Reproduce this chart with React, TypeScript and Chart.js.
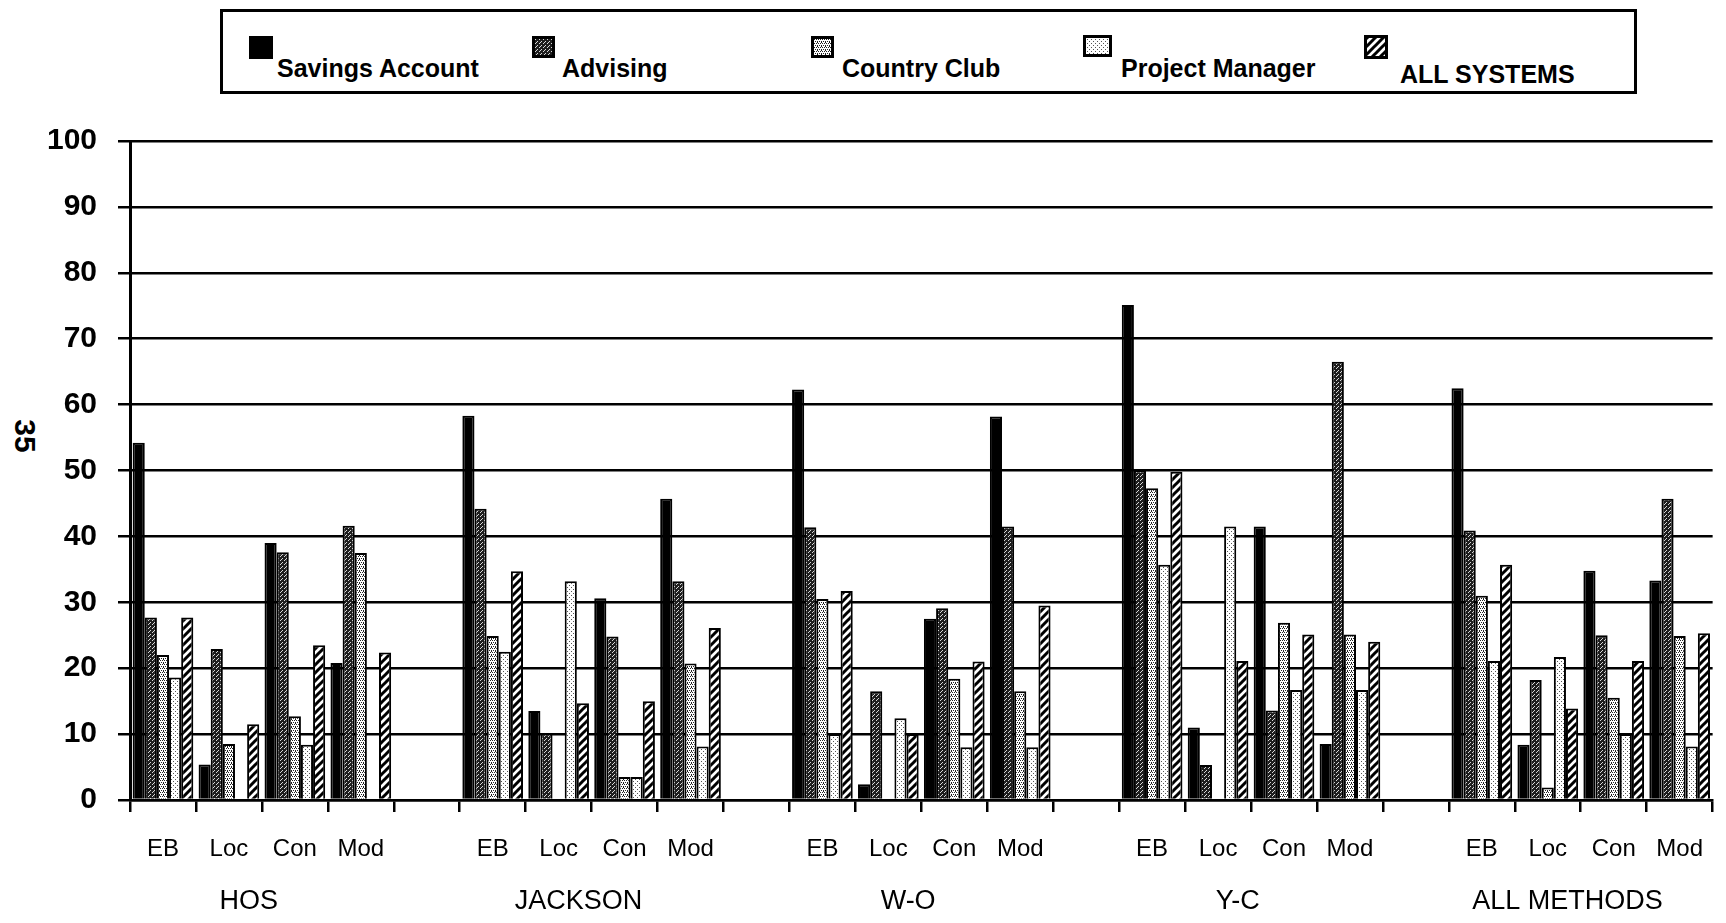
import React, { useEffect, useMemo, useRef } from "react";
import { Chart, registerables } from "chart.js";

Chart.register(...registerables);

// ---------- data ----------
const GROUPS = ["HOS", "JACKSON", "W-O", "Y-C", "ALL METHODS"];
const SUBCATS = ["EB", "Loc", "Con", "Mod"];
const SERIES_NAMES = ["Savings Account", "Advising", "Country Club", "Project Manager", "ALL SYSTEMS"];
const Y_MIN = 0;
const Y_MAX = 100;
const Y_STEP = 10;

// values in order: HOS(EB,Loc,Con,Mod), JACKSON(...), W-O(...), Y-C(...), ALL METHODS(...)
const SAVINGS_ACCOUNT = [54.2, 5.4, 39.0, 20.8, 58.3, 13.5, 30.6, 45.7, 62.3, 2.4, 27.5, 58.2, 75.1, 11.0, 41.5, 8.5, 62.5, 8.4, 34.8, 33.3];
const ADVISING = [27.7, 22.9, 37.6, 41.6, 44.2, 10.1, 24.8, 33.2, 41.4, 16.5, 29.1, 41.5, 50.0, 5.3, 13.6, 66.5, 40.9, 18.2, 25.0, 45.7];
const COUNTRY_CLUB = [22.0, 8.5, 12.7, 37.5, 24.9, null, 3.5, 20.7, 30.5, null, 18.4, 16.5, 47.3, null, 26.9, 25.1, 31.0, 1.9, 15.5, 24.9];
const PROJECT_MANAGER = [18.6, null, 8.4, null, 22.5, 33.2, 3.5, 8.1, 10.0, 12.4, 8.0, 8.0, 35.7, 41.5, 16.7, 16.7, 21.1, 21.7, 10.0, 8.1];
const ALL_SYSTEMS = [27.7, 11.5, 23.5, 22.4, 34.7, 14.7, 15.0, 26.1, 31.7, 10.0, 21.0, 29.5, 49.8, 21.1, 25.1, 24.0, 35.7, 13.9, 21.1, 25.3];

const SERIES_VALUES = [SAVINGS_ACCOUNT, ADVISING, COUNTRY_CLUB, PROJECT_MANAGER, ALL_SYSTEMS];

// ---------- helpers ----------
type Kind = "solid" | "adv" | "cc" | "pm" | "hatch";
const SERIES_KINDS: Kind[] = ["solid", "adv", "cc", "pm", "hatch"];

function makeTile(kind: Kind): HTMLCanvasElement {
  const c = document.createElement("canvas");
  if (kind === "hatch") {
    c.width = 8;
    c.height = 8;
    const g = c.getContext("2d")!;
    g.fillStyle = "#fff";
    g.fillRect(0, 0, 8, 8);
    g.strokeStyle = "#000";
    g.lineWidth = 3;
    g.beginPath();
    g.moveTo(-2, 10); g.lineTo(10, -2);
    g.moveTo(-6, 6); g.lineTo(6, -6);
    g.moveTo(2, 14); g.lineTo(14, 2);
    g.stroke();
    return c;
  }
  c.width = 4;
  c.height = 4;
  const g = c.getContext("2d")!;
  if (kind === "solid") {
    g.fillStyle = "#000";
    g.fillRect(0, 0, 4, 4);
  } else if (kind === "adv") {
    g.fillStyle = "#1e1e1e";
    g.fillRect(0, 0, 4, 4);
    g.fillStyle = "#d8d8d8";
    g.fillRect(0, 0, 1, 1);
    g.fillRect(2, 2, 1, 1);
    g.fillRect(1, 3, 1, 1);
  } else if (kind === "cc") {
    g.fillStyle = "#fff";
    g.fillRect(0, 0, 4, 4);
    g.fillStyle = "#222";
    g.fillRect(0, 0, 1, 1);
    g.fillRect(2, 0, 1, 1);
    g.fillRect(1, 2, 1, 1);
    g.fillRect(3, 2, 1, 1);
    g.fillRect(3, 3, 1, 1);
  } else {
    g.fillStyle = "#fff";
    g.fillRect(0, 0, 4, 4);
    g.fillStyle = "#555";
    g.fillRect(1, 1, 1, 1);
    g.fillRect(3, 3, 1, 1);
  }
  return c;
}

function buildLabels(): string[] {
  const out: string[] = [];
  GROUPS.forEach((_, gi) => {
    SUBCATS.forEach((s) => out.push(s));
    if (gi < GROUPS.length - 1) out.push("");
  });
  return out;
}

function buildSeries(values: (number | null)[]): (number | null)[] {
  const out: (number | null)[] = [];
  GROUPS.forEach((_, gi) => {
    SUBCATS.forEach((_, si) => out.push(values[gi * SUBCATS.length + si]));
    if (gi < GROUPS.length - 1) out.push(null);
  });
  return out;
}

const SLOTS_PER_GROUP = SUBCATS.length + 1;
const FONT = "'Liberation Sans', Arial, Helvetica, sans-serif";

export default function App() {
  const canvasRef = useRef<HTMLCanvasElement | null>(null);
  const tiles = useMemo(() => SERIES_KINDS.map((k) => makeTile(k)), []);
  const tileUrls = useMemo(() => tiles.map((t) => t.toDataURL()), [tiles]);

  useEffect(() => {
    const canvas = canvasRef.current;
    if (!canvas) return;
    const ctx = canvas.getContext("2d")!;
    const fills = SERIES_KINDS.map((k, i) => (k === "solid" ? "#000" : (ctx.createPattern(tiles[i], "repeat") as CanvasPattern)));
    const labels = buildLabels();
    const groupCenters = GROUPS.map((_, gi) => gi * SLOTS_PER_GROUP + (SUBCATS.length - 1) / 2 - 0.2);

    const chart = new Chart(ctx, {
      type: "bar",
      data: {
        labels,
        datasets: SERIES_NAMES.map((name, i) => ({
          label: name,
          data: buildSeries(SERIES_VALUES[i]),
          backgroundColor: fills[i],
          borderColor: "#000",
          borderWidth: 2,
          categoryPercentage: 0.92,
          barPercentage: 1.0,
          xAxisID: "x",
        })),
      },
      options: {
        animation: false,
        responsive: false,
        devicePixelRatio: 1,
        layout: { padding: { top: 41, left: 0, right: 0, bottom: 0 } },
        plugins: {
          legend: { display: false },
          tooltip: { enabled: false },
        },
        scales: {
          x: {
            type: "category",
            position: "bottom",
            offset: true,
            grid: {
              display: true,
              drawOnChartArea: false,
              drawTicks: true,
              tickLength: 12,
              color: "#000",
              lineWidth: 2.5,
              offset: true,
            },
            border: { display: true, color: "#000", width: 2.5 },
            ticks: {
              autoSkip: false,
              maxRotation: 0,
              minRotation: 0,
              padding: 23,
              color: "#000",
              font: { family: FONT, size: 24, weight: "normal" },
            },
            afterFit: (scale: any) => {
              scale.height = 60;
            },
          },
          x2: {
            type: "linear",
            position: "bottom",
            offset: false,
            min: -0.5,
            max: labels.length - 0.5,
            grid: { display: false, drawTicks: false, tickLength: 0, offset: false },
            border: { display: false },
            ticks: {
              autoSkip: false,
              maxRotation: 0,
              minRotation: 0,
              padding: 25,
              color: "#000",
              font: { family: FONT, size: 27, weight: "normal" },
              callback: (_v: any, idx: number) => GROUPS[idx],
            },
            afterBuildTicks: (scale: any) => {
              scale.ticks = groupCenters.map((v) => ({ value: v }));
            },
            afterFit: (scale: any) => {
              scale.height = 63;
            },
          },
          y: {
            min: Y_MIN,
            max: Y_MAX,
            ticks: {
              stepSize: Y_STEP,
              padding: 21,
              color: "#000",
              font: { family: FONT, size: 30, weight: "bold" },
            },
            grid: {
              color: "#000",
              lineWidth: 2.5,
              drawTicks: true,
              tickLength: 12,
            },
            border: { display: true, color: "#000", width: 3 },
            afterFit: (scale: any) => {
              scale.width = 130;
            },
          },
        },
      },
    } as any);
    return () => chart.destroy();
  }, [tiles]);

  const legendItems = [
    { sx: 249, sy: 36, sw: 24, sh: 23, tx: 277, ty: 56 },
    { sx: 532, sy: 36, sw: 23, sh: 22, tx: 562, ty: 56 },
    { sx: 811, sy: 36, sw: 23, sh: 22, tx: 842, ty: 56 },
    { sx: 1083, sy: 35, sw: 29, sh: 22, tx: 1121, ty: 56 },
    { sx: 1364, sy: 35, sw: 24, sh: 24, tx: 1400, ty: 62 },
  ];

  return (
    <div
      style={{
        position: "fixed",
        left: 0,
        top: 0,
        width: 1726,
        height: 923,
        background: "#fff",
        overflow: "hidden",
        fontFamily: FONT,
        color: "#000",
      }}
    >
      <div
        style={{
          position: "absolute",
          left: 220,
          top: 9,
          width: 1417,
          height: 85,
          border: "3px solid #000",
          boxSizing: "border-box",
        }}
      />
      {legendItems.map((it, i) => (
        <React.Fragment key={SERIES_NAMES[i]}>
          <div
            style={{
              position: "absolute",
              left: it.sx,
              top: it.sy,
              width: it.sw,
              height: it.sh,
              boxSizing: "border-box",
              border: "3px solid #000",
              backgroundImage: `url(${tileUrls[i]})`,
              backgroundColor: "#000",
            }}
          />
          <div
            style={{
              position: "absolute",
              left: it.tx,
              top: it.ty,
              fontSize: 25,
              lineHeight: "25px",
              fontWeight: "bold",
              whiteSpace: "nowrap",
            }}
          >
            {SERIES_NAMES[i]}
          </div>
        </React.Fragment>
      ))}
      <div
        style={{
          position: "absolute",
          left: 25,
          top: 436,
          transform: "translate(-50%, -50%) rotate(90deg)",
          fontSize: 30,
          fontWeight: "bold",
          lineHeight: "30px",
          whiteSpace: "nowrap",
        }}
      >
        35
      </div>
      <canvas
        ref={canvasRef}
        width={1726}
        height={823}
        style={{ position: "absolute", left: 0, top: 100, width: 1726, height: 823 }}
      />
    </div>
  );
}
